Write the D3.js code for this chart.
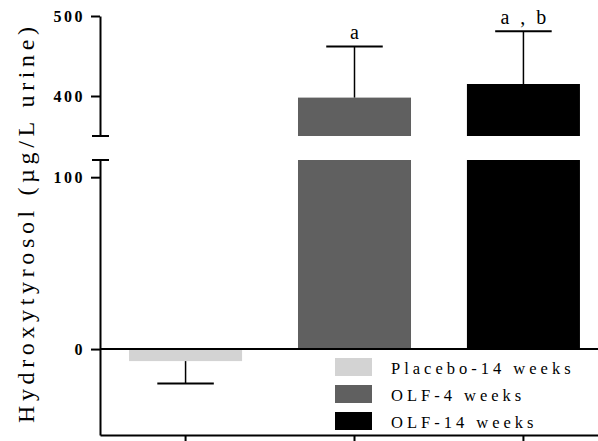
<!DOCTYPE html>
<html>
<head>
<meta charset="utf-8">
<script src="https://cdn.jsdelivr.net/npm/d3@7"></script>
<style>
  body { margin: 0; background: #fff; }
  text { font-family: "Liberation Serif", serif; fill: #000; }
</style>
</head>
<body>
<div id="chart"></div>
<script>
// data
var groups = ["Placebo-14 weeks", "OLF-4 weeks", "OLF-14 weeks"];
var means = [-7, 398, 415];
var errs = [13, 64, 66];
var labels = ["", "a", "a , b"];
var colors = ["#d3d3d3", "#606060", "#000000"];
var topTicks = [400, 500];
var botTicks = [0, 100];

var W = 598, H = 441;
var svg = d3.select("#chart").append("svg")
  .attr("width", W)
  .attr("height", H);

// broken y axis: two segments
var yTop = d3.scaleLinear().domain([350, 500]).range([136, 16]);
var yBot = d3.scaleLinear().domain([-50, 110]).range([435, 160]);

var x = d3.scaleBand()
  .domain(groups)
  .range([100, 609])
  .paddingInner(0.331)
  .paddingOuter(0.172);

var data = groups.map(function(g, i) {
  return { g: g, m: means[i], e: errs[i], lab: labels[i], c: colors[i] };
});

// bars, lower part
svg.selectAll(".barBot").data(data).enter().append("rect")
  .attr("x", function(d) { return x(d.g); })
  .attr("width", x.bandwidth())
  .attr("y", function(d) { return yBot(Math.min(Math.max(d.m, 0), 110)); })
  .attr("height", function(d) {
    var v = Math.min(d.m, 110);
    return Math.abs(yBot(v) - yBot(0));
  })
  .attr("fill", function(d) { return d.c; });

// bars, upper part (only those above the break)
var tall = data.filter(function(d) { return d.m > 350; });
svg.selectAll(".barTop").data(tall).enter().append("rect")
  .attr("x", function(d) { return x(d.g); })
  .attr("width", x.bandwidth())
  .attr("y", function(d) { return yTop(d.m); })
  .attr("height", function(d) { return yTop(350) - yTop(d.m); })
  .attr("fill", function(d) { return d.c; });

// error bars
var capW = x.bandwidth() / 2;
data.forEach(function(d) {
  var cx = x(d.g) + x.bandwidth() / 2;
  var y0, y1;
  if (d.m > 350) { y0 = yTop(d.m); y1 = yTop(d.m + d.e); }
  else if (d.m < 0) { y0 = yBot(d.m); y1 = yBot(d.m - d.e); }
  else { y0 = yBot(d.m); y1 = yBot(d.m + d.e); }
  svg.append("line")
    .attr("x1", cx).attr("x2", cx)
    .attr("y1", y0).attr("y2", y1)
    .attr("stroke", "#000").attr("stroke-width", 1.5);
  svg.append("line")
    .attr("x1", cx - capW / 2).attr("x2", cx + capW / 2)
    .attr("y1", y1).attr("y2", y1)
    .attr("stroke", "#000").attr("stroke-width", 2);
  if (d.lab) {
    svg.append("text")
      .attr("x", cx + 1.5)
      .attr("y", y1 - 7)
      .attr("text-anchor", "middle")
      .style("font-size", "20px")
      .style("letter-spacing", "3px")
      .text(d.lab);
  }
});

// y axes
var axTop = svg.append("g")
  .attr("transform", "translate(100,0)")
  .call(d3.axisLeft(yTop).tickValues(topTicks).tickSize(9).tickSizeOuter(0).tickPadding(6));
var axBot = svg.append("g")
  .attr("transform", "translate(100,0)")
  .call(d3.axisLeft(yBot).tickValues(botTicks).tickSize(9).tickSizeOuter(0).tickPadding(6));

[axTop, axBot].forEach(function(ax) {
  ax.select(".domain").attr("stroke-width", 2);
  ax.selectAll(".tick line").attr("stroke-width", 2);
  ax.selectAll(".tick text")
    .style("font-family", "'Liberation Serif', serif")
    .style("font-size", "16px")
    .style("font-weight", "bold")
    .style("letter-spacing", "2.5px");
});

// break caps
[yTop(350), yBot(110)].forEach(function(yy) {
  svg.append("line")
    .attr("x1", 92).attr("x2", 109)
    .attr("y1", yy).attr("y2", yy)
    .attr("stroke", "#000").attr("stroke-width", 2);
});

// zero line and bottom axis
svg.append("line")
  .attr("x1", 100).attr("x2", W)
  .attr("y1", yBot(0)).attr("y2", yBot(0))
  .attr("stroke", "#000").attr("stroke-width", 2);

var axX = svg.append("g")
  .attr("transform", "translate(0," + yBot(-50) + ")")
  .call(d3.axisBottom(x).tickSize(8).tickSizeOuter(0).tickFormat(""));
axX.select(".domain").attr("stroke-width", 2);
axX.selectAll(".tick line").attr("stroke-width", 2);

// y title
svg.append("text")
  .attr("transform", "translate(34,225) rotate(-90)")
  .attr("text-anchor", "middle")
  .attr("textLength", 396)
  .attr("lengthAdjust", "spacing")
  .style("font-size", "24px")
  .text("Hydroxytyrosol (µg/L urine)");

// legend
var leg = svg.selectAll(".leg").data(data).enter().append("g")
  .attr("transform", function(d, i) { return "translate(335," + (358 + i * 27) + ")"; });
leg.append("rect")
  .attr("width", 37).attr("height", 18)
  .attr("fill", function(d) { return d.c; });
leg.append("text")
  .attr("x", 56).attr("y", 16)
  .style("font-size", "16.5px")
  .style("letter-spacing", "4px")
  .text(function(d) { return d.g; });
</script>
</body>
</html>
